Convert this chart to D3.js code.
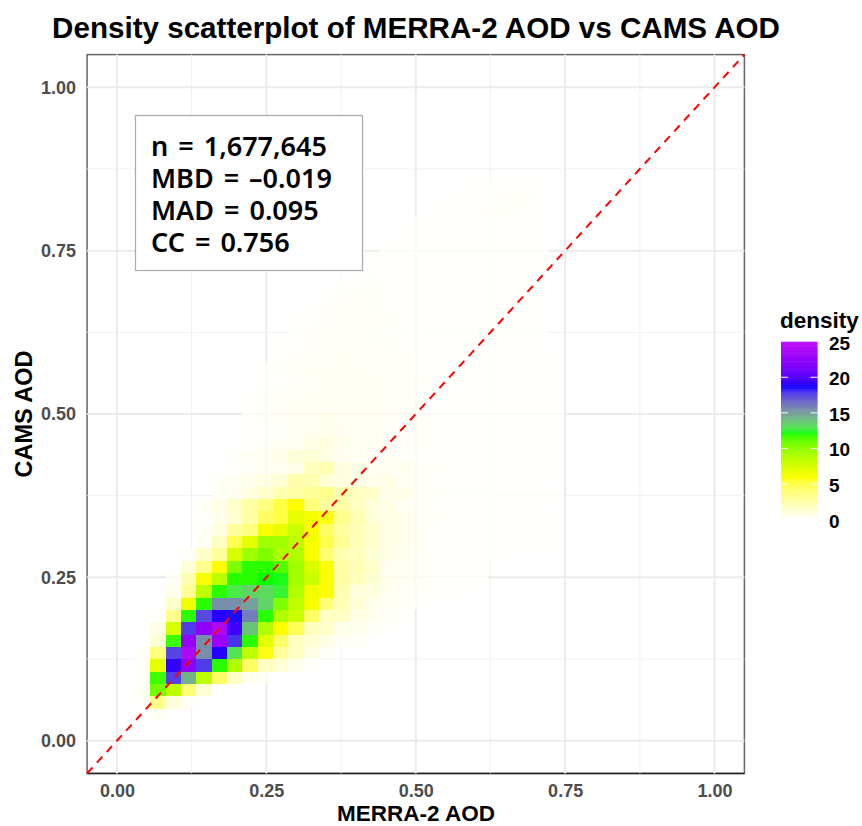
<!DOCTYPE html>
<html>
<head>
<meta charset="utf-8">
<script src="https://cdn.jsdelivr.net/npm/d3@7"></script>
<style>
  html, body { margin: 0; padding: 0; background: #fff; }
  svg { display: block; font-family: "Liberation Sans", Arial, sans-serif; }
</style>
</head>
<body>
<div id="chart"></div>
<script>
const titleText = "Density scatterplot of MERRA-2 AOD vs CAMS AOD";
const xLabel = "MERRA-2 AOD";
const yLabel = "CAMS AOD";
const majorTicks = [0, 0.25, 0.5, 0.75, 1];
const minorTicks = [0.125, 0.375, 0.625, 0.875];
const legendTicks = [0, 5, 10, 15, 20, 25];
const statLines = ["n = 1,677,645", "MBD = –0.019", "MAD = 0.095", "CC = 0.756"];

// colour ramp of the fill scale
const rampColors = ["#ffffff", "#ffff00", "#00ff00", "#0000ff", "#bf10f5"];
const rampStops = [0, 5.9, 12.2, 18.7, 25];

// the 2d bins, in data units
const binStartX = 0.0815;
const binStartY = 0.1623;
const binWidth = 0.02566;
const binHeight = 0.01887;

// first column of every row, rows go from the bottom up (first row is index -7)
const firstRow = -7;
const rowStart = [
  -1, -2, -2, -2, -2, -2, -2, -1, -1, 0, 0, 0, 1, 1, 2, 2,
  2, 2, 3, 3, 4, 4, 5, 5, 5, 5, 5, 6, 6, 7, 7, 8, 8, 9, 10, 11,
  12, 13, 14, 15, 16, 17, 18, 19
];
// density
const rowDensity = [
  [.4],
  [.2,3.5,1.2,.3],
  [.5,10.8,8.5,4,1.5,.2],
  [.4,11.8,17.7,14.5,8.5,4.5,2,.7,.2],
  [.3,7,19.2,22.5,17.8,12,9,4.5,2,1.5,.7,.2],
  [.3,4,17.6,24,15.5,19,13,8.5,5.8,3,2,1,.4],
  [.1,1.5,11.8,22.8,15.5,23,18,12,7,4.5,2.2,1.5,1,.4,.3],
  [1,7.5,17.8,22.5,24,19.5,14,9,6,4.8,2.2,1.8,.8,.7,.4,.2],
  [.2,3.5,12,17.5,19,18.6,16,12,9,8,4.5,2,2,1,.7,.4,.2],
  [1.8,6.5,12,15.5,15.5,15,13.5,10.5,8.5,6.3,4,2.3,1.5,.8,.4,.3,.2],
  [.8,3.2,8.5,12,12.8,13.5,13.3,12.5,9,6.5,6,2.5,1.2,1.2,.6,.3,.3,.2,.2,.2],
  [.3,2.5,6.2,8.5,12,12,12.2,12.3,9.5,8,6.1,2.8,2.2,1.5,.8,.5,.3,.2,.2,.2,.2],
  [1.5,3.5,6,10.5,12,12,11.5,9.5,7.5,6,2.8,2.3,1.8,.6,.5,.3,.2,.2,.2,.2],
  [.3,1.8,3,7.5,9.5,10.5,9,9,6.3,4.2,2.5,2.2,1.5,1,.7,.3,.2,.2,.2,.2,.15],
  [.5,2,5,7,9.5,9.5,8.5,6.2,5,3.2,2.3,1.8,1,.8,.4,.2,.2,.2,.2,.15,.15,.15,.15,.15],
  [.3,1.2,3,3.8,6.1,6.8,8,6,4.5,3,2.3,1.8,1,.8,.4,.2,.2,.2,.2,.15,.15,.15,.15,.15],
  [.2,.8,1.6,2.8,4.5,5.2,6.8,6.2,5.8,3.5,2.5,1.3,1,.8,.4,.3,.2,.2,.2,.15,.15,.15,.15,.15],
  [.4,1,1.8,2.8,3.8,5.2,6,4,3,2.8,2,1.3,.9,.4,.3,.2,.2,.2,.15,.15,.15,.15,.15],
  [.3,.6,1,1.8,2.5,2.8,3.2,3.5,2.5,2.2,1.8,.8,.9,.4,.3,.2,.2,.2,.15,.15,.15,.15,.15],
  [.3,.5,.8,1.1,1.5,2.6,2.5,1.5,1.2,1,.8,1,.4,.3,.2,.2,.2,.15,.15,.15,.15,.15],
  [.2,.3,.5,.6,.9,2.2,2.6,1.2,1,.6,.5,.7,.3,.3,.2,.2,.2,.15,.15,.15,.15,.15],
  [.3,.4,.6,.9,1.5,1.5,1,.6,.5,.4,.3,.3,.2,.2,.2,.15,.15,.15,.15,.15,.15],
  [.2,.3,.5,.6,1,1.2,.8,.6,.5,.4,.3,.3,.2,.2,.2,.15,.15,.15,.15,.15,.15],
  [.1,.2,.3,.5,.6,.8,.6,.5,.4,.4,.3,.3,.2,.2,.2,.15,.15,.15,.15,.15,.15],
  [.2,.3,.3,.4,.5,.8,.5,.5,.4,.3,.3,.3,.2,.2,.2,.2,.15,.15,.15,.15,.15],
  [.2,.3,.3,.4,.5,.6,.5,.4,.4,.3,.3,.3,.2,.2,.2,.2,.15,.15,.15,.15,.15],
  [.2,.3,.3,.3,.4,.5,.5,.4,.4,.3,.3,.2,.2,.2,.2,.2,.2,.15,.15,.15,.15],
  [.2,.2,.3,.3,.4,.5,.4,.4,.3,.3,.3,.2,.2,.2,.2,.2,.15,.15,.15,.15],
  [.2,.3,.3,.4,.4,.4,.4,.3,.3,.3,.2,.2,.2,.2,.2,.15,.15,.15,.15,.15],
  [.2,.3,.3,.3,.4,.3,.3,.3,.3,.2,.2,.2,.2,.2,.15,.15,.15,.15,.15],
  [.2,.2,.3,.3,.3,.3,.3,.3,.2,.2,.2,.2,.2,.15,.15,.15,.15,.15],
  [.2,.3,.3,.3,.3,.3,.2,.2,.2,.2,.2,.2,.15,.15,.15,.15,.15],
  [.2,.2,.3,.3,.3,.3,.3,.2,.2,.2,.2,.2,.15,.15,.15,.15,.15],
  [.2,.3,.3,.3,.3,.2,.2,.2,.2,.2,.2,.2,.15,.15,.15,.15],
  [.2,.3,.3,.3,.2,.2,.2,.2,.2,.2,.2,.15,.15,.15,.15],
  [.2,.2,.3,.2,.2,.2,.2,.2,.2,.2,.15,.15,.15,.15],
  [.2,.2,.2,.2,.2,.2,.2,.2,.2,.15,.15,.15,.15],
  [.15,.2,.2,.2,.2,.2,.2,.2,.15,.15,.15,.15],
  [.15,.2,.2,.2,.2,.2,.2,.15,.15,.15,.15],
  [.15,.15,.2,.2,.2,.2,.2,.15,.15,.15],
  [.15,.15,.2,.2,.2,.2,.15,.15,.15],
  [.15,.15,.2,.2,.3,.3,.2,.15],
  [.15,.15,.2,.2,.3,.3,.15],
  [.15,.15,.2,.2,.2,.15]
];

const width = 862, height = 826;

const svg = d3.select("#chart").append("svg")
  .attr("width", width)
  .attr("height", height);

const x = d3.scaleLinear().domain([-0.05, 1.05]).range([87.1, 744.4]);
const y = d3.scaleLinear().domain([-0.05, 1.05]).range([773.4, 54.6]);

const color = d3.scaleLinear()
  .domain(rampStops)
  .range(rampColors)
  .interpolate(d3.interpolateLab)
  .clamp(true);

// faint tiles let the grid show through
const tileOpacity = d3.scaleLinear().domain([0, 3]).range([0.7, 1]).clamp(true);

// border goes first, gridlines cut small notches in it
svg.append("rect")
  .attr("x", x.range()[0])
  .attr("y", y.range()[1])
  .attr("width", x.range()[1] - x.range()[0])
  .attr("height", y.range()[0] - y.range()[1])
  .attr("fill", "#fff")
  .attr("stroke", "#666")
  .attr("stroke-width", 1.5);

svg.append("line")
  .attr("x1", x.range()[0]).attr("x2", x.range()[1])
  .attr("y1", y.range()[0]).attr("y2", y.range()[0])
  .attr("stroke", "#222")
  .attr("stroke-width", 1.5);

const grid = svg.append("g");

function gridLines(values, sw, col) {
  grid.selectAll(null).data(values).enter().append("line")
    .attr("x1", d => x(d)).attr("x2", d => x(d))
    .attr("y1", y.range()[0]).attr("y2", y.range()[1])
    .attr("stroke", col).attr("stroke-width", sw);
  grid.selectAll(null).data(values).enter().append("line")
    .attr("y1", d => y(d)).attr("y2", d => y(d))
    .attr("x1", x.range()[0]).attr("x2", x.range()[1])
    .attr("stroke", col).attr("stroke-width", sw);
}
gridLines(minorTicks, 1, "#f0f0f0");
gridLines(majorTicks, 2, "#ebebeb");

// flatten the rows to tiles
const tiles = [];
rowDensity.forEach((vals, i) => {
  vals.forEach((v, k) => {
    tiles.push({ col: rowStart[i] + k, row: firstRow + i, density: v });
  });
});

svg.append("g").selectAll("rect")
  .data(tiles)
  .enter().append("rect")
  .attr("x", d => x(binStartX + d.col * binWidth))
  .attr("width", x(binWidth) - x(0))
  .attr("y", d => y(binStartY + (d.row + 1) * binHeight))
  .attr("height", y(0) - y(binHeight))
  .attr("fill", d => color(d.density))
  .attr("fill-opacity", d => tileOpacity(d.density))
  .attr("shape-rendering", "crispEdges");

// 1:1 line
svg.append("line")
  .attr("x1", x(-0.05)).attr("y1", y(-0.05))
  .attr("x2", x(1.05)).attr("y2", y(1.05))
  .attr("stroke", "#ff0000")
  .attr("stroke-width", 2)
  .attr("stroke-dasharray", "8 6.5");

// axes
const xAxis = svg.append("g")
  .attr("transform", `translate(0,${y.range()[0]})`)
  .call(d3.axisBottom(x).tickValues(majorTicks).tickFormat(d3.format(".2f")).tickSize(0).tickPadding(11));
const yAxis = svg.append("g")
  .attr("transform", `translate(${x.range()[0]},0)`)
  .call(d3.axisLeft(y).tickValues(majorTicks).tickFormat(d3.format(".2f")).tickSize(0).tickPadding(11));

[xAxis, yAxis].forEach(a => {
  a.select(".domain").remove();
  a.selectAll("text")
    .attr("fill", "#4d4d4d")
    .style("font-size", "18px")
    .style("font-weight", "bold")
    .style("font-family", '"Liberation Sans", Arial, sans-serif');
});

svg.append("text")
  .attr("x", 416).attr("y", 38)
  .attr("text-anchor", "middle")
  .style("font-size", "29.6px")
  .style("font-weight", "bold")
  .text(titleText);

svg.append("text")
  .attr("x", 416).attr("y", 821)
  .attr("text-anchor", "middle")
  .style("font-size", "22.5px")
  .style("font-weight", "bold")
  .text(xLabel);

svg.append("text")
  .attr("transform", "translate(32,414) rotate(-90)")
  .attr("text-anchor", "middle")
  .style("font-size", "23.5px")
  .style("font-weight", "bold")
  .text(yLabel);

// stats box
svg.append("rect")
  .attr("x", 135.5).attr("y", 115.5)
  .attr("width", 227).attr("height", 155)
  .attr("fill", "#fff")
  .attr("stroke", "#aaa")
  .attr("stroke-width", 1.2);

svg.append("g").selectAll("text")
  .data(statLines)
  .enter().append("text")
  .attr("x", 151)
  .attr("y", (d, i) => 155.5 + i * 32)
  .style("font-family", '"Noto Sans", sans-serif')
  .style("font-size", "27px")
  .style("font-weight", 600)
  .style("word-spacing", "3px")
  .attr("fill", "#000")
  .text(d => d);

// legend
const legendY = d3.scaleLinear().domain([0, 25]).range([519.6, 341.7]);
const legendX = 781, legendW = 36.5;

const legend = svg.append("g");

legend.append("text")
  .attr("x", 780).attr("y", 328)
  .style("font-size", "22.5px")
  .style("font-weight", "bold")
  .text("density");

legend.selectAll("rect")
  .data(d3.range(0, 25, 0.25))
  .enter().append("rect")
  .attr("x", legendX)
  .attr("width", legendW)
  .attr("y", d => legendY(d + 0.25))
  .attr("height", legendY(0) - legendY(0.25) + 0.5)
  .attr("fill", d => color(d + 0.125));

legend.selectAll(".tick-l")
  .data(legendTicks.slice(1, -1))
  .enter().append("line")
  .attr("class", "tick-l")
  .attr("x1", legendX).attr("x2", legendX + 7)
  .attr("y1", d => legendY(d)).attr("y2", d => legendY(d))
  .attr("stroke", "#fff").attr("stroke-width", 1);

legend.selectAll(".tick-r")
  .data(legendTicks.slice(1, -1))
  .enter().append("line")
  .attr("class", "tick-r")
  .attr("x1", legendX + legendW - 7).attr("x2", legendX + legendW)
  .attr("y1", d => legendY(d)).attr("y2", d => legendY(d))
  .attr("stroke", "#fff").attr("stroke-width", 1);

legend.selectAll(".lab")
  .data(legendTicks)
  .enter().append("text")
  .attr("class", "lab")
  .attr("x", 829)
  .attr("y", d => legendY(d) + 8)
  .style("font-size", "19px")
  .style("font-weight", "bold")
  .text(d => d);
</script>
</body>
</html>
